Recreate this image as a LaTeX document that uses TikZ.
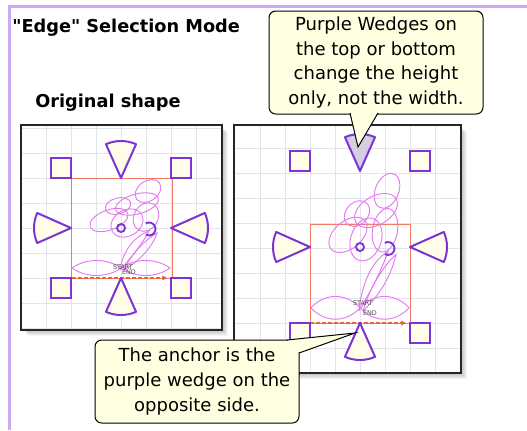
\documentclass[tikz,border=0pt]{standalone}
\usepackage{fontspec}
\setmainfont{DejaVu Sans}
\usetikzlibrary{arrows.meta}

\definecolor{grip}{RGB}{124,52,214}
\definecolor{gripfill}{RGB}{255,253,232}
\definecolor{picked}{RGB}{212,206,224}
\definecolor{motifpink}{RGB}{228,122,240}
\definecolor{outlinered}{RGB}{240,124,96}
\definecolor{pathorange}{RGB}{232,98,58}
\definecolor{gridgray}{RGB}{226,228,236}
\definecolor{notefill}{RGB}{255,255,226}
\definecolor{framepurple}{RGB}{202,170,245}

% one lobe of the flower: centre x, centre y, radii, tilt
\newcommand{\lobe}[5]{\draw[motifline, rotate around={#5:(#1,#2)}] (#1,#2) ellipse[x radius=#3, y radius=#4];}

% the quilting motif, origin at the bottom centre of its frame
\newcommand{\quiltmotif}{%
  \lobe{27}{-87}{14}{10}{35}
  \lobe{16}{-74}{22}{10}{15}
  \lobe{-3}{-72}{13}{8}{15}
  \lobe{-12}{-58}{20}{10}{20}
  \lobe{6}{-55}{17}{13}{30}
  \lobe{25}{-61}{15}{12}{60}
  % stem
  \draw[motifline] (-1,-8) .. controls (2,-28) and (14,-42) .. (28,-47)
                           .. controls (20,-32) and (8,-18) .. (-1,-8);
  \draw[motifline] (3,-8) .. controls (10,-24) and (24,-38) .. (36,-45)
                          .. controls (30,-28) and (16,-16) .. (3,-8);
  % leaves
  \draw[motifline] (-49,-10) .. controls (-35,-20) and (-14,-20) .. (0,-10)
                             .. controls (-14,0) and (-35,0) .. (-49,-10);
  \draw[motifline] (0,-10) .. controls (14,-20) and (35,-20) .. (49,-10)
                           .. controls (35,0) and (14,0) .. (0,-10);
}

% centre dot and curl, #1 = vertical stretch
\newcommand{\quilteyes}[1]{%
  \draw[eye] (0,-50*#1) circle[radius=4];
  \draw[eye] (28,-49*#1) ++(-120:6.5) arc[start angle=-120, end angle=120, radius=6.5];
}

% edge handles round a box of height #1 (half height #2), #3 fills the top wedge
\newcommand{\selhandles}[3]{%
  \draw[wedgeh, fill=#3] (0,-#1) -- ++(-114:37) arc[start angle=-114, end angle=-66, radius=37] -- cycle;
  \foreach \dir/\ax/\ay in {90/0/0, 180/-50/-#2, 0/50/-#2}
    \draw[wedgeh] (\ax,\ay) -- ++(\dir-24:37) arc[start angle=\dir-24, end angle=\dir+24, radius=37] -- cycle;
  \foreach \sx/\sy in {-70/-#1-20, 50/-#1-20, -70/0, 50/0}
    \draw[gripbox] (\sx,\sy) rectangle ++(20,20);
}

% soft drop shadow behind a panel
\newcommand{\softshadow}[4]{%
  \foreach \s in {1,...,6}
    \fill[black, opacity=0.045] (#1+\s+1,#2+\s+1) rectangle (#3+\s,#4+\s);
}

\begin{document}
\begin{tikzpicture}[x=0.75pt, y=-0.75pt, >={Triangle[length=3.5pt, width=3.5pt]},
  panel/.style={draw=black!85, line width=1.1pt, fill=white},
  gridline/.style={draw=gridgray, line width=0.5pt},
  outline/.style={draw=outlinered, line width=0.6pt},
  motifline/.style={draw=motifpink, line width=0.7pt},
  eye/.style={draw=grip, line width=1.4pt},
  pathline/.style={draw=pathorange, line width=1.5pt, dash pattern=on 3pt off 1.5pt},
  wedgeh/.style={draw=grip, line width=1.5pt, line join=round, fill=gripfill},
  gripbox/.style={draw=grip, line width=1.5pt, fill=gripfill},
  marker/.style={font=\fontsize{4.8}{5}\selectfont, text=black!70, inner sep=0pt},
  heading/.style={font=\bfseries\fontsize{13.3}{16}\selectfont, inner sep=0pt, anchor=west},
  note/.style={draw=black, line width=0.75pt, fill=notefill, rounded corners=5pt,
               align=center, inner sep=0pt, font=\fontsize{13.5}{18.4}\selectfont},
  tipline/.style={draw=black, line width=0.75pt, line join=miter}]
  \useasboundingbox (0,0) rectangle (527,430);
  \fill[white] (0,0) rectangle (527,430);
  \draw[framepurple, line width=2.25pt] (9,430) -- (9,6) -- (527,6);

  \node[heading] (title) at (12,28) {\textquotedbl Edge\textquotedbl{} Selection Mode};
  \node[heading] (origlabel) at (35,103) {Original shape};

  % original shape
  \softshadow{21}{125}{222}{330}
  \draw[panel] (21,125) rectangle (222,330);
  \begin{scope}[shift={(121,278)}]
    \foreach \gx in {-75,-50,...,75} \draw[gridline] (\gx,-152) -- (\gx,51);
    \foreach \gy in {-150,-125,...,50} \draw[gridline] (-99,\gy) -- (100,\gy);
    \draw[outline] (-50,-100) rectangle (51,0);
    \quiltmotif
    \quilteyes{1}
    \draw[pathline, ->] (-49,0) -- (46,0);
    \node[marker] (startA) at (2,-11) {START};
    \node[marker] (endA) at (8,-6) {END};
    \selhandles{100}{50}{gripfill}
  \end{scope}

  % stretched by the top wedge
  \softshadow{234}{125}{461}{373}
  \draw[panel] (234,125) rectangle (461,373);
  \begin{scope}[shift={(360,323)}]
    \foreach \gx in {-100,-75,...,75} \draw[gridline] (\gx,-197) -- (\gx,49);
    \foreach \gy in {-175,-150,...,25} \draw[gridline] (-125,\gy) -- (100,\gy);
    \draw[outline] (-50,-99) rectangle (50,0);
    \begin{scope}[yscale=1.52]
      \quiltmotif
    \end{scope}
    \quilteyes{1.52}
    \draw[pathline, ->] (-50,0) -- (46,0);
    \node[marker] (startB) at (3,-20) {START};
    \node[marker] (endB) at (10,-10) {END};
    \selhandles{152}{76}{picked}
    \coordinate (tipTop) at (-2,-176);
    \coordinate (tipBottom) at (-5,10);
  \end{scope}

  % callouts
  \node[note, minimum width=160.5pt, minimum height=77.25pt] (noteTop) at (376,62.5)
    {Purple Wedges on\\the top or bottom\\change the height\\only, not the width.};
  \fill[notefill] (350,111.6) -- (tipTop) -- (378,111.6) -- cycle;
  \draw[tipline] (350,113) -- (tipTop) -- (378,113);

  \node[note, minimum width=153pt, minimum height=62.25pt] (noteBottom) at (197,381.5)
    {The anchor is the\\purple wedge on the\\opposite side.};
  \fill[notefill] (287,339.3) -- (tipBottom) -- (299.6,353) -- cycle;
  \draw[tipline] (287,340) -- (tipBottom) -- (299,353);
\end{tikzpicture}
\end{document}
